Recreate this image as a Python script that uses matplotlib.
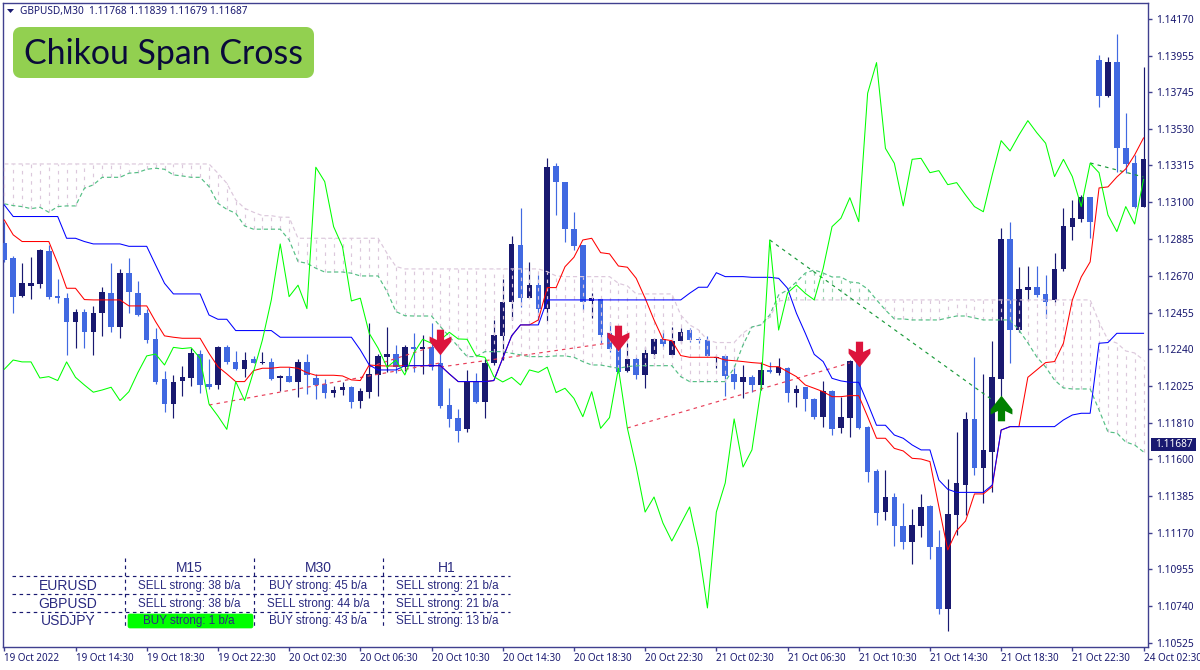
import numpy as np
import matplotlib
matplotlib.use("Agg")
import matplotlib.pyplot as plt
from matplotlib.path import Path
from matplotlib.patches import FancyBboxPatch, Rectangle, Polygon

# Prices are stored as (price - 1) * 100000, e.g. 12240 means 1.12240
opens = [12860,12772,12552,12613,12622,12817,12552,12539,12398,12461,12340,12451,12572,12373,12688,12572,12451,12299,12065,11921,
         12054,12071,12213,12038,12032,12252,12169,12124,12182,12159,12169,12073,12085,12052,12169,12075,12038,11988,12003,12019,
         11939,11993,12091,12198,12213,12139,12252,12243,12256,12163,11916,11838,11773,12056,11935,12159,12319,12519,12850,12542,
         12616,12476,13312,13220,12942,12850,12523,12535,12334,12247,12116,12182,12091,12213,12299,12210,12289,12354,12299,12295,
         12192,12204,12097,12048,12077,12032,12120,12101,12130,11984,12019,11949,11843,11999,11779,11838,12178,11785,11532,11292,
         11380,11209,11117,11209,11326,11088,10722,11273,11448,11836,11546,11643,12067,12885,12353,12587,12605,12564,12529,12710,
         12955,13002,13130,13931,13720,13919,13417,13329,13072]
highs = [12986,12786,12747,12778,12827,12850,12650,12572,12474,12474,12494,12603,12747,12708,12772,12642,12474,12363,12116,12091,
         12143,12247,12237,12182,12260,12264,12233,12227,12202,12227,12188,12089,12139,12182,12213,12097,12069,12027,12048,12027,
         12013,12396,12213,12369,12266,12266,12338,12324,12396,12217,12013,11890,12120,12104,12182,12412,12650,12903,13064,12753,
         12675,13356,13331,13220,13045,12850,12568,12539,12402,12354,12276,12198,12256,12305,12354,12373,12363,12363,12311,12319,
         12208,12208,12149,12149,12091,12169,12169,12188,12136,12032,12023,11954,12056,12003,11960,12178,12182,11793,11542,11536,
         11403,11341,11310,11396,11329,11185,11483,11760,11877,12194,12097,12291,12949,12984,12721,12727,12727,12675,12803,13066,
         13113,13142,13130,13960,13948,14082,13621,13376,13890]
lows = [12753,12451,12548,12535,12599,12535,12509,12208,12247,12247,12208,12319,12344,12305,12451,12435,12280,12036,11877,11838,
        11968,12027,11988,12007,12011,12155,12120,12077,12159,12155,12062,11999,12048,11960,11980,11949,11954,11960,11974,11896,
        11896,11954,11968,12110,12104,12112,12110,12097,12120,11896,11785,11701,11760,11929,11838,12149,12178,12412,12490,12539,
        12412,12408,13025,12870,12821,12470,12422,12276,12227,12101,12110,12065,12013,12188,12256,12202,12276,12285,12276,12198,
        12130,11968,12007,11954,11993,12003,12104,12091,11935,11906,11882,11832,11785,11740,11754,11727,11773,11468,11215,11244,
        11094,11076,10987,11143,11018,10695,10597,11156,11273,11507,11345,11409,11968,12161,12342,12529,12546,12424,12517,12698,
        12879,12984,12891,13656,13714,13276,13270,13066,13072]
closes = [12762,12548,12630,12630,12821,12548,12542,12398,12461,12340,12455,12577,12373,12688,12574,12441,12295,12052,11921,12052,
          12077,12221,12032,12021,12252,12169,12124,12178,12163,12167,12069,12085,12052,12169,12091,12034,11986,12003,12019,11935,
          11999,12097,12202,12213,12139,12252,12241,12252,12139,11910,11832,11766,12056,11935,12163,12324,12519,12856,12542,12616,
          12474,13304,13216,12942,12846,12519,12539,12324,12241,12110,12182,12091,12221,12299,12272,12291,12340,12295,12293,12204,
          12196,12085,12048,12077,12032,12120,12106,12136,11984,12011,11949,11843,11999,11773,11843,12174,11779,11526,11287,11380,
          11209,11117,11213,11322,11084,10722,11277,11458,11836,11546,11653,12077,12885,12353,12593,12605,12558,12517,12710,12961,
          13008,13130,12984,13720,13919,13417,13323,13072,13352]

kijun = [13084,13016,13016,13016,13016,13016,13016,12889,12889,12870,12856,12856,12856,12856,12842,12842,12842,12733,12626,12564,
         12564,12564,12564,12441,12416,12416,12350,12350,12350,12350,12350,12311,12311,12311,12311,12311,12311,12311,12311,12311,
         12237,12149,12120,12120,12120,12145,12145,12145,12145,12145,12097,12052,12052,12052,12052,12058,12188,12319,12383,12383,
         12383,12529,12529,12529,12529,12529,12529,12529,12529,12529,12529,12529,12529,12529,12529,12529,12529,12568,12603,12603,
         12688,12665,12665,12665,12661,12661,12661,12655,12597,12451,12334,12211,12169,12071,12056,12048,12048,11925,11797,11797,
         11740,11721,11682,11653,11653,11477,11423,11405,11405,11405,11405,11448,11769,11789,11789,11789,11789,11789,11789,11828,
         11857,11867,11867,12276,12280,12334,12334,12334,12334]
tenkan = [12996,12909,12870,12870,12870,12870,12743,12597,12597,12531,12529,12529,12529,12529,12494,12494,12494,12402,12319,12311,
          12305,12305,12305,12217,12139,12097,12052,12052,12116,12130,12130,12136,12136,12130,12104,12089,12089,12089,12085,12062,
          12058,12149,12145,12143,12143,12145,12145,12145,12145,12145,12097,12052,12052,12052,12052,12058,12188,12319,12383,12383,
          12412,12601,12601,12723,12778,12879,12889,12805,12798,12727,12720,12655,12539,12412,12299,12291,12204,12194,12194,12194,
          12194,12178,12174,12169,12163,12159,12139,12139,12110,12081,12032,12013,11993,11964,11964,11970,11970,11847,11721,11721,
          11662,11647,11604,11600,11585,11322,11069,11181,11238,11396,11396,11439,11769,11789,11789,12077,12120,12163,12169,12276,
          12529,12663,12751,13183,13189,13247,13294,13376,13475]
chikou = [12124,12178,12167,12167,12073,12081,12058,12167,12077,12032,11990,12003,12019,11941,11993,12104,12202,12213,12149,12252,
          12245,12250,12188,11921,11851,11773,12052,11941,12110,12295,12529,12856,12548,12615,12478,13304,13220,12957,12840,12523,
          12539,12334,12247,12136,12178,12091,12217,12299,12276,12295,12340,12301,12299,12204,12194,12081,12050,12077,12032,12120,
          12106,12136,11988,12013,11954,11847,11993,11779,11842,12130,11781,11553,11290,11378,11226,11121,11220,11320,11080,10730,
          11290,11460,11834,11553,11653,12003,12879,12353,12570,12616,12567,12529,12713,12957,13006,13126,12986,13736,13915,13414,
          13327,13078,13350,13356,13272,13284,13202,13214,13142,13074,13044,13259,13459,13399,13492,13576,13506,13444,13249,13350,
          13249,13074,13327,13272,13025,12928,13074,12972,13233]
senkou_a = [13090,13080,13074,13062,13070,13041,13074,13078,13078,13181,13201,13245,13245,13245,13269,13273,13292,13298,13292,13259,
            13253,13245,13245,13191,13093,13058,13035,12961,12942,12942,12942,12942,12879,12753,12743,12714,12692,12692,12692,12685,
            12669,12669,12669,12578,12461,12437,12435,12435,12435,12373,12315,12256,12198,12198,12227,12227,12227,12217,12208,12198,
            12198,12198,12202,12202,12194,12169,12149,12149,12139,12130,12139,12145,12145,12145,12145,12145,12081,12052,12052,12052,
            12052,12052,12132,12266,12371,12383,12441,12558,12587,12634,12686,12704,12686,12663,12663,12634,12628,12593,12529,12470,
            12418,12418,12412,12412,12412,12412,12424,12435,12435,12424,12412,12412,12412,12412,12353,12278,12196,12137,12061,12015,
            12009,12009,12009,11886,11758,11752,11699,11682,11641]
senkou_b = [13323,13323,13323,13323,13323,13323,13323,13323,13323,13323,13323,13323,13323,13323,13323,13323,13323,13323,13323,13323,
            13323,13323,13323,13323,13269,13210,13113,13064,13041,13021,13021,13012,13012,12889,12889,12889,12889,12889,12889,12889,
            12889,12889,12889,12801,12724,12710,12710,12710,12710,12710,12710,12710,12710,12710,12710,12710,12710,12710,12710,12710,
            12710,12694,12669,12665,12665,12665,12665,12665,12665,12626,12611,12564,12564,12564,12564,12564,12441,12383,12354,12295,
            12280,12280,12280,12336,12371,12383,12429,12523,12529,12529,12529,12529,12529,12529,12529,12529,12529,12529,12529,12529,
            12529,12529,12529,12529,12529,12529,12529,12529,12529,12529,12529,12529,12529,12529,12529,12529,12529,12529,12529,12529,
            12529,12529,12529,12400,12295,12277,12231,12219,12178]

red_trends = [((23, 11915), (49, 12161)), ((41, 12137), (48, 12254)), ((49, 12137), (68, 12278)), ((70, 11781), (95, 12161))]
green_trends = [((86, 12879), (111, 11945)), ((122, 13329), (128, 13247))]
sell_arrows = [(49, 12283), (69, 12307), (96, 12213)]
buy_arrows = [(112, 11898)]

price_ticks = [14170,13955,13745,13530,13315,13100,12885,12670,12455,12240,12025,11810,11600,11385,11170,10955,10740,10525]
time_labels = ['19 Oct 2022','19 Oct 14:30','19 Oct 18:30','19 Oct 22:30','20 Oct 02:30','20 Oct 06:30','20 Oct 10:30',
               '20 Oct 14:30','20 Oct 18:30','20 Oct 22:30','21 Oct 02:30','21 Oct 06:30','21 Oct 10:30','21 Oct 14:30',
               '21 Oct 18:30','21 Oct 22:30','24 Oct 02:30']
last_price = 11687
header = 'GBPUSD,M30  1.11768 1.11839 1.11679 1.11687'
title = 'Chikou Span Cross'
table_cols = ['M15', 'M30', 'H1']
table_rows = ['EURUSD', 'GBPUSD', 'USDJPY']
table_cells = [['SELL strong: 38 b/a', 'BUY strong: 45 b/a', 'SELL strong: 21 b/a'],
               ['SELL strong: 38 b/a', 'SELL strong: 44 b/a', 'SELL strong: 21 b/a'],
               ['BUY strong: 1 b/a', 'BUY strong: 43 b/a', 'SELL strong: 13 b/a']]

NAVY = '#191970'; ROYAL = '#4169E1'; FRAME = '#40408f'
TH = '#DCC8DC'; SEA = '#55BF85'


def p(values):
    return 1 + np.asarray(values, dtype=float) / 1e5


for name, arr in dict(o=opens, h=highs, l=lows, c=closes, k=kijun, t=tenkan, ch=chikou, a=senkou_a, b=senkou_b).items():
    assert len(arr) == 129, (name, len(arr))

W, H = 1200, 670
fig = plt.figure(figsize=(W / 100, H / 100), dpi=100, facecolor='white')
L, R, T, B = 3, 1148, 3, 647
ax = fig.add_axes([L / W, 1 - B / H, (R - L) / W, (B - T) / H])
ax.set_xlim(-0.146, 128.5)
ax.set_ylim(1 + 10502 / 1e5, 1 + 14263 / 1e5)

idx = np.arange(len(closes))
O, Hi, Lo, C = p(opens), p(highs), p(lows), p(closes)
A, Bs = p(senkou_a), p(senkou_b)

colors = [NAVY if c >= o else ROYAL for o, c in zip(O, C)]
ax.vlines(idx, Lo, Hi, colors=colors, lw=0.85, zorder=2)
body_lo = np.minimum(O, C)
body_h = np.maximum(np.abs(C - O), 4e-5)
ax.bar(idx, body_h, bottom=body_lo, width=0.62, color=colors, linewidth=0, zorder=3)

# cloud hatch drawn over candles
hatch_col = [TH if b >= a else '#9AD4B0' for a, b in zip(A, Bs)]
ax.vlines(idx, np.minimum(A, Bs), np.maximum(A, Bs), colors=hatch_col, lw=0.85, linestyles=[(0, (3, 4))], zorder=4)
ax.plot(idx, Bs, color=TH, lw=0.85, ls=(0, (3.5, 2.5)), zorder=4)
ax.plot(idx, A, color=SEA, lw=0.85, ls=(0, (3.5, 2.5)), zorder=4)

for (x0, y0), (x1, y1) in red_trends:
    ax.plot([x0, x1], p([y0, y1]), color='#E8405A', lw=0.85, ls=(0, (3, 3.5)), zorder=5)
for (x0, y0), (x1, y1) in green_trends:
    ax.plot([x0, x1], p([y0, y1]), color='#1A9A3A', lw=0.85, ls=(0, (3, 3.5)), zorder=5)

ax.plot(idx, p(tenkan), color='#FF0000', lw=0.75, zorder=6)
ax.plot(idx, p(kijun), color='#0000FF', lw=0.75, zorder=7)
ax.plot(idx, p(chikou), color='#00FF00', lw=0.75, zorder=8)

down = Path([(-3.6, 12.8), (3.6, 12.8), (3.6, 2.5), (10.9, 6), (10.9, 1), (0, -12.8), (-10.9, 1), (-10.9, 6), (-3.6, 2.5), (-3.6, 12.8)], closed=True)
up = Path([(x, -y) for x, y in down.vertices], closed=True)
ax.scatter([a[0] for a in sell_arrows], p([a[1] for a in sell_arrows]), marker=down, s=340, color='#DC143C', linewidths=0, zorder=9)
ax.scatter([a[0] for a in buy_arrows], p([a[1] for a in buy_arrows]), marker=up, s=340, color='#008000', linewidths=0, zorder=9)

for s in ax.spines.values():
    s.set_color(FRAME)
    s.set_linewidth(1.0)
ax.yaxis.tick_right()
ax.set_yticks(p(price_ticks))
ax.set_yticklabels(['%.5f' % v for v in p(price_ticks)], fontsize=7.3, color=NAVY, family='Noto Sans')
ax.set_xticks(np.arange(len(time_labels)) * 8)
ax.set_xticklabels(time_labels, fontsize=7.1, color=NAVY, family='Noto Sans', ha='left')
ax.tick_params(axis='y', length=3, width=1, color=FRAME, pad=3)
ax.tick_params(axis='x', length=3, width=1, color=FRAME, pad=1.5)

# overlay in figure pixels for labels, panel and table
ov = fig.add_axes([0, 0, 1, 1], facecolor='none')
ov.set_xlim(0, W)
ov.set_ylim(H, 0)
ov.axis('off')

ov.add_patch(Polygon([(7, 9), (14, 9), (10.5, 13)], closed=True, color=NAVY, lw=0))
ov.text(20, 11.5, header, fontsize=7.25, color=NAVY, family='Noto Sans', va='center', ha='left')

ov.add_patch(FancyBboxPatch((17, 31), 293, 43, boxstyle='round,pad=0,rounding_size=1', mutation_scale=4,
                            fc='#92D050', ec='#92D050', lw=8 * 0.72, joinstyle='round'))
ov.text(163, 54, title, fontsize=24.4, color='#0A0A3A', family='Lato', va='center', ha='center')

ov.add_patch(Rectangle((1151, 438), 45, 13, fc=NAVY, ec=NAVY, lw=0))
ov.text(1173.5, 444.5, '%.5f' % p(last_price), fontsize=7.3, color='white', family='Noto Sans', va='center', ha='center')

for x in (125, 254, 383):
    ov.plot([x, x], [558, 628], color=NAVY, lw=0.85, ls=(0, (3, 3)))
for y in (576, 593.5, 611.5):
    ov.plot([12, 510], [y, y], color=NAVY, lw=0.85, ls=(0, (3, 3)))
ov.add_patch(FancyBboxPatch((128, 614), 125, 14, boxstyle='round,pad=0,rounding_size=2', fc='#00FF00', ec='#00FF00', lw=0.5))
col_x = [189, 318, 447]
row_y = [585.5, 603.5, 621]
for x, lab in zip(col_x, table_cols):
    ov.text(x, 568, lab, fontsize=10, color='#2A2A80', family='Liberation Sans', ha='center', va='center')
for y, lab, cells in zip(row_y, table_rows, table_cells):
    ov.text(68, y, lab, fontsize=10, color='#2A2A80', family='Liberation Sans', ha='center', va='center')
    for x, cell in zip(col_x, cells):
        ov.text(x, y, cell, fontsize=8.4, color='#2A2A80', family='Liberation Sans', ha='center', va='center')

fig.savefig('out.png', dpi=100, facecolor='white')
